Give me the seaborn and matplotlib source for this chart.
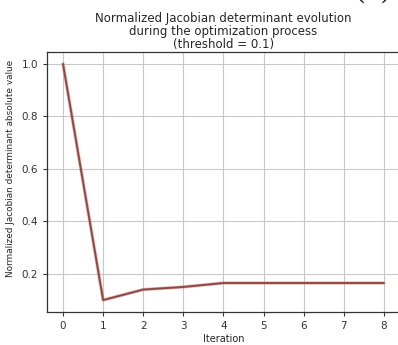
import numpy as np
import pandas as pd
import matplotlib
matplotlib.use("Agg")
import matplotlib.pyplot as plt
import seaborn as sns

# Valores
iteracoes = [0, 1, 2, 3, 4, 5, 6, 7, 8]
jacobiano_norm = [1.0, 0.1, 0.14, 0.15, 0.165, 0.165, 0.165, 0.165, 0.165]
limiar = 0.1

df = pd.DataFrame({"Iteration": iteracoes, "valor": jacobiano_norm})

sns.set_style("ticks")
plt.rcParams["font.family"] = ["DejaVu Sans"]

fig = plt.figure(figsize=(3.98, 3.45), dpi=100)
ax = fig.add_axes([0.118, 0.096, 0.887, 0.753])

# linha de fundo avermelhada + linha castanha por cima
sns.lineplot(data=df, x="Iteration", y="valor", ax=ax, color="#d08080", lw=2.4, alpha=0.55)
sns.lineplot(data=df, x="Iteration", y="valor", ax=ax, color="#8c4a42", lw=1.4)

ax.grid(True, color="#c8c8c8", lw=0.8)
ax.set_axisbelow(True)
ax.set_xticks(iteracoes)
ax.set_yticks([0.2, 0.4, 0.6, 0.8, 1.0])
ax.tick_params(labelsize=7.5, length=3, width=0.8, colors="#333333")
for s in ax.spines.values():
    s.set_color("#333333")
    s.set_linewidth(0.9)

ax.set_xlabel("Iteration", fontsize=7, labelpad=2)
ax.set_ylabel("Normalized Jacobian determinant absolute value", fontsize=6.4)
ax.yaxis.set_label_coords(-0.09, 0.552)
ax.set_title("Normalized Jacobian determinant evolution\nduring the optimization process\n"
             f"(threshold = {limiar})", fontsize=8.5, linespacing=1.0, pad=3)

fig.text(0.937, 1.025, "(c)", ha="center", va="center", fontsize=20, family="DejaVu Serif")

plt.savefig("out.png", dpi=100)
